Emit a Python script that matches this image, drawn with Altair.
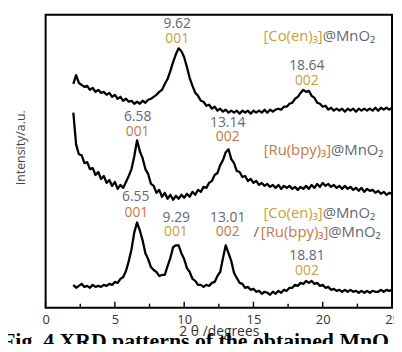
import altair as alt
import pandas as pd

# 2theta sampling positions (degrees)
two_theta = [2.0, 2.2, 2.4, 2.6, 2.8, 3.0, 3.2, 3.4, 3.6, 3.8,
             4.0, 4.2, 4.4, 4.6, 4.8, 5.0, 5.2, 5.4, 5.6, 5.8,
             6.0, 6.2, 6.4, 6.6, 6.8, 7.0, 7.2, 7.4, 7.6, 7.8,
             8.0, 8.2, 8.4, 8.6, 8.8, 9.0, 9.2, 9.4, 9.6, 9.8,
             10.0, 10.2, 10.4, 10.6, 10.8, 11.0, 11.2, 11.4, 11.6, 11.8,
             12.0, 12.2, 12.4, 12.6, 12.8, 13.0, 13.2, 13.4, 13.6, 13.8,
             14.0, 14.2, 14.4, 14.6, 14.8, 15.0, 15.2, 15.4, 15.6, 15.8,
             16.0, 16.2, 16.4, 16.6, 16.8, 17.0, 17.2, 17.4, 17.6, 17.8,
             18.0, 18.2, 18.4, 18.6, 18.8, 19.0, 19.2, 19.4, 19.6, 19.8,
             20.0, 20.2, 20.4, 20.6, 20.8, 21.0, 21.2, 21.4, 21.6, 21.8,
             22.0, 22.2, 22.4, 22.6, 22.8, 23.0, 23.2, 23.4, 23.6, 23.8,
             24.0, 24.2, 24.4, 24.6, 24.8, 25.0]

# [Co(en)3]@MnO2 (offset, arbitrary units)
co_en = [226, 235, 227, 225, 223, 224, 220, 222, 218, 220,
         217, 218, 215, 217, 213, 215, 211, 213, 209, 211,
         208, 209, 206, 208, 206, 209, 207, 210, 211, 213,
         215, 218, 220, 226, 231, 239, 248, 256, 262, 259,
         253, 243, 232, 224, 217, 214, 209, 208, 204, 205,
         201, 203, 199, 201, 198, 200, 197, 199, 197, 199,
         196, 199, 197, 199, 196, 199, 197, 199, 197, 200,
         197, 200, 198, 200, 201, 200, 203, 203, 206, 207,
         211, 213, 217, 220, 218, 219, 214, 212, 207, 206,
         203, 204, 200, 202, 199, 201, 199, 201, 198, 201,
         199, 201, 198, 201, 199, 201, 199, 201, 199, 202,
         199, 202, 200, 202, 200, 202]

# [Ru(bpy)3]@MnO2
ru_bpy = [197, 165, 155, 154, 146, 147, 140, 141, 134, 137,
          130, 133, 126, 129, 123, 127, 120, 124, 121, 127,
          133, 140, 153, 169, 158, 151, 140, 135, 125, 123,
          116, 119, 112, 116, 110, 114, 109, 113, 110, 114,
          111, 115, 112, 117, 114, 119, 117, 122, 121, 126,
          128, 134, 136, 144, 149, 157, 160, 150, 146, 138,
          137, 132, 133, 128, 130, 126, 128, 124, 126, 123,
          125, 122, 124, 121, 124, 120, 123, 121, 123, 120,
          122, 119, 122, 120, 123, 120, 124, 121, 125, 122,
          126, 123, 125, 122, 124, 121, 123, 120, 123, 120,
          122, 119, 121, 118, 121, 117, 120, 118, 119, 116,
          118, 115, 117, 114, 116, 115]

# [Co(en)3]@MnO2 / [Ru(bpy)3]@MnO2
mixed = [23, 20, 22, 24, 21, 22, 20, 23, 21, 22,
         21, 23, 22, 24, 23, 26, 25, 29, 31, 37,
         47, 59, 76, 86, 78, 68, 55, 49, 41, 38,
         36, 32, 33, 33, 42, 50, 61, 63, 63, 55,
         49, 40, 36, 29, 27, 23, 23, 21, 23, 22,
         25, 26, 32, 36, 50, 63, 55, 47, 35, 30,
         25, 24, 20, 21, 18, 19, 16, 17, 14, 16,
         15, 13, 16, 14, 17, 15, 18, 17, 20, 20,
         23, 22, 25, 24, 27, 25, 27, 24, 25, 22,
         23, 20, 21, 18, 19, 17, 18, 16, 18, 16,
         18, 16, 17, 15, 17, 15, 17, 15, 17, 16,
         16, 18, 16, 18, 17, 18]

major_ticks = [0, 5, 10, 15, 20, 25]
minor_ticks = [2.5, 7.5, 12.5, 17.5, 22.5]

GRAY = "#5f6675"
GOLD = "#c4a23a"
ORANGE = "#c47848"

# peak annotations: text, 2theta, height, colour
peak_text = ["9.62", "001", "18.64", "002",
             "6.58", "001", "13.14", "002",
             "6.55", "001", "9.29", "001", "13.01", "002", "18.81", "002"]
peak_x = [9.5, 9.5, 18.85, 18.85,
          6.64, 6.64, 13.14, 13.14,
          6.5, 6.55, 9.43, 9.4, 13.14, 13.14, 18.86, 18.86]
peak_y = [287, 271, 244, 229,
          193, 177, 187, 172,
          112, 96, 91, 76, 91, 76, 52, 37]
peak_col = [GRAY, GOLD, GRAY, GOLD,
            GRAY, ORANGE, GRAY, ORANGE,
            GRAY, ORANGE, GRAY, GOLD, GRAY, ORANGE, GRAY, GOLD]

# sample names: coloured part (right-aligned) + grey part (left-aligned)
name_col_text = ["[Co(en)\u2083]", "[Ru(bpy)\u2083]", "[Co(en)\u2083]", "[Ru(bpy)\u2083]"]
name_col_color = [GOLD, ORANGE, GOLD, ORANGE]
name_x = [20.0, 20.6, 20.0, 20.4]
name_y = [274, 159, 96, 76]
name_rest = ["@MnO\u2082", "@MnO\u2082", "@MnO\u2082", "@MnO\u2082"]
slash_x = [15.4]
slash_y = [76]

rows = []
for name, vals in [("co", co_en), ("ru", ru_bpy), ("mix", mixed)]:
    for t, v in zip(two_theta, vals):
        rows.append({"series": name, "x": t, "y": v})
df = pd.DataFrame(rows)

FONT = "Open Sans"
XTITLE = "2 \u03b8 /degrees"
YTITLE = "Intensity/a.u."

xs = alt.Scale(domain=[0, 25], nice=False, zero=False)
ys = alt.Scale(domain=[0, 296], nice=False, zero=False)
xaxis = alt.Axis(
    values=major_ticks, ticks=False, domain=False, grid=False, labelFlush=False,
    labelFont=FONT, labelFontSize=13, labelColor="#333333", labelPadding=6,
    title=XTITLE, titleFont=FONT, titleFontSize=14,
    titleFontWeight="normal", titleColor="#333333",
    titleY=24, titleBaseline="middle")
yaxis = alt.Axis(
    labels=False, ticks=False, domain=False, grid=False,
    title=YTITLE, titleFont=FONT, titleFontSize=12.5,
    titleFontWeight="normal", titleColor="#444444",
    titleX=-25, titleY=134, titleAngle=270, titleAlign="center",
    titleBaseline="middle")


def X(f="x"):
    return alt.X(f"{f}:Q", scale=xs, axis=xaxis, title=XTITLE)


def Y(f="y"):
    return alt.Y(f"{f}:Q", scale=ys, axis=yaxis, title=YTITLE)


lines = alt.Chart(df).mark_line(color="black", strokeWidth=2.3, strokeJoin="round").encode(
    x=X(), y=Y(), detail="series:N", order="x:Q")

major_df = pd.DataFrame({"x": major_ticks})
minor_df = pd.DataFrame({"x": minor_ticks})
major_rule = alt.Chart(major_df).mark_rule(color="black", strokeWidth=1.4).encode(
    x=X(), y=alt.value(296), y2=alt.value(290))
minor_rule = alt.Chart(minor_df).mark_rule(color="black", strokeWidth=1.4).encode(
    x=X(), y=alt.value(296), y2=alt.value(292))

peaks_df = pd.DataFrame({"t": peak_text, "x": peak_x, "y": peak_y, "c": peak_col})
peaks = alt.Chart(peaks_df).mark_text(font=FONT, fontSize=14, align="center",
                                      baseline="middle").encode(
    x=X(), y=Y(), text="t:N", color=alt.Color("c:N", scale=None))

names_df = pd.DataFrame({"t": name_col_text, "x": name_x, "y": name_y,
                         "c": name_col_color, "r": name_rest})
names_col = alt.Chart(names_df).mark_text(font=FONT, fontSize=15, align="right",
                                          baseline="middle").encode(
    x=X(), y=Y(), text="t:N", color=alt.Color("c:N", scale=None))
names_rest = alt.Chart(names_df).mark_text(font=FONT, fontSize=15, align="left",
                                           baseline="middle", color=GRAY).encode(
    x=X(), y=Y(), text="r:N")
slash_df = pd.DataFrame({"x": slash_x, "y": slash_y, "t": ["/"]})
slash = alt.Chart(slash_df).mark_text(font=FONT, fontSize=15, align="right",
                                      baseline="middle", color=GRAY).encode(
    x=X(), y=Y(), text="t:N")

chart = alt.layer(lines, major_rule, minor_rule, peaks, names_col, names_rest, slash).properties(
    width=350, height=296,
    autosize=alt.AutoSizeParams(type="none"),
    padding={"left": 38, "top": 5, "right": 2, "bottom": 35},
    title=alt.TitleParams(
        text="Fig. 4 XRD patterns of the obtained MnO\u2082",
        orient="bottom", anchor="start", frame="group", font="Liberation Serif",
        fontSize=22, fontWeight="bold", color="black", dx=-44, offset=-7),
).configure_view(stroke="black", strokeWidth=2)

chart.save("out.html", embed_options={"renderer": "svg", "actions": False})
